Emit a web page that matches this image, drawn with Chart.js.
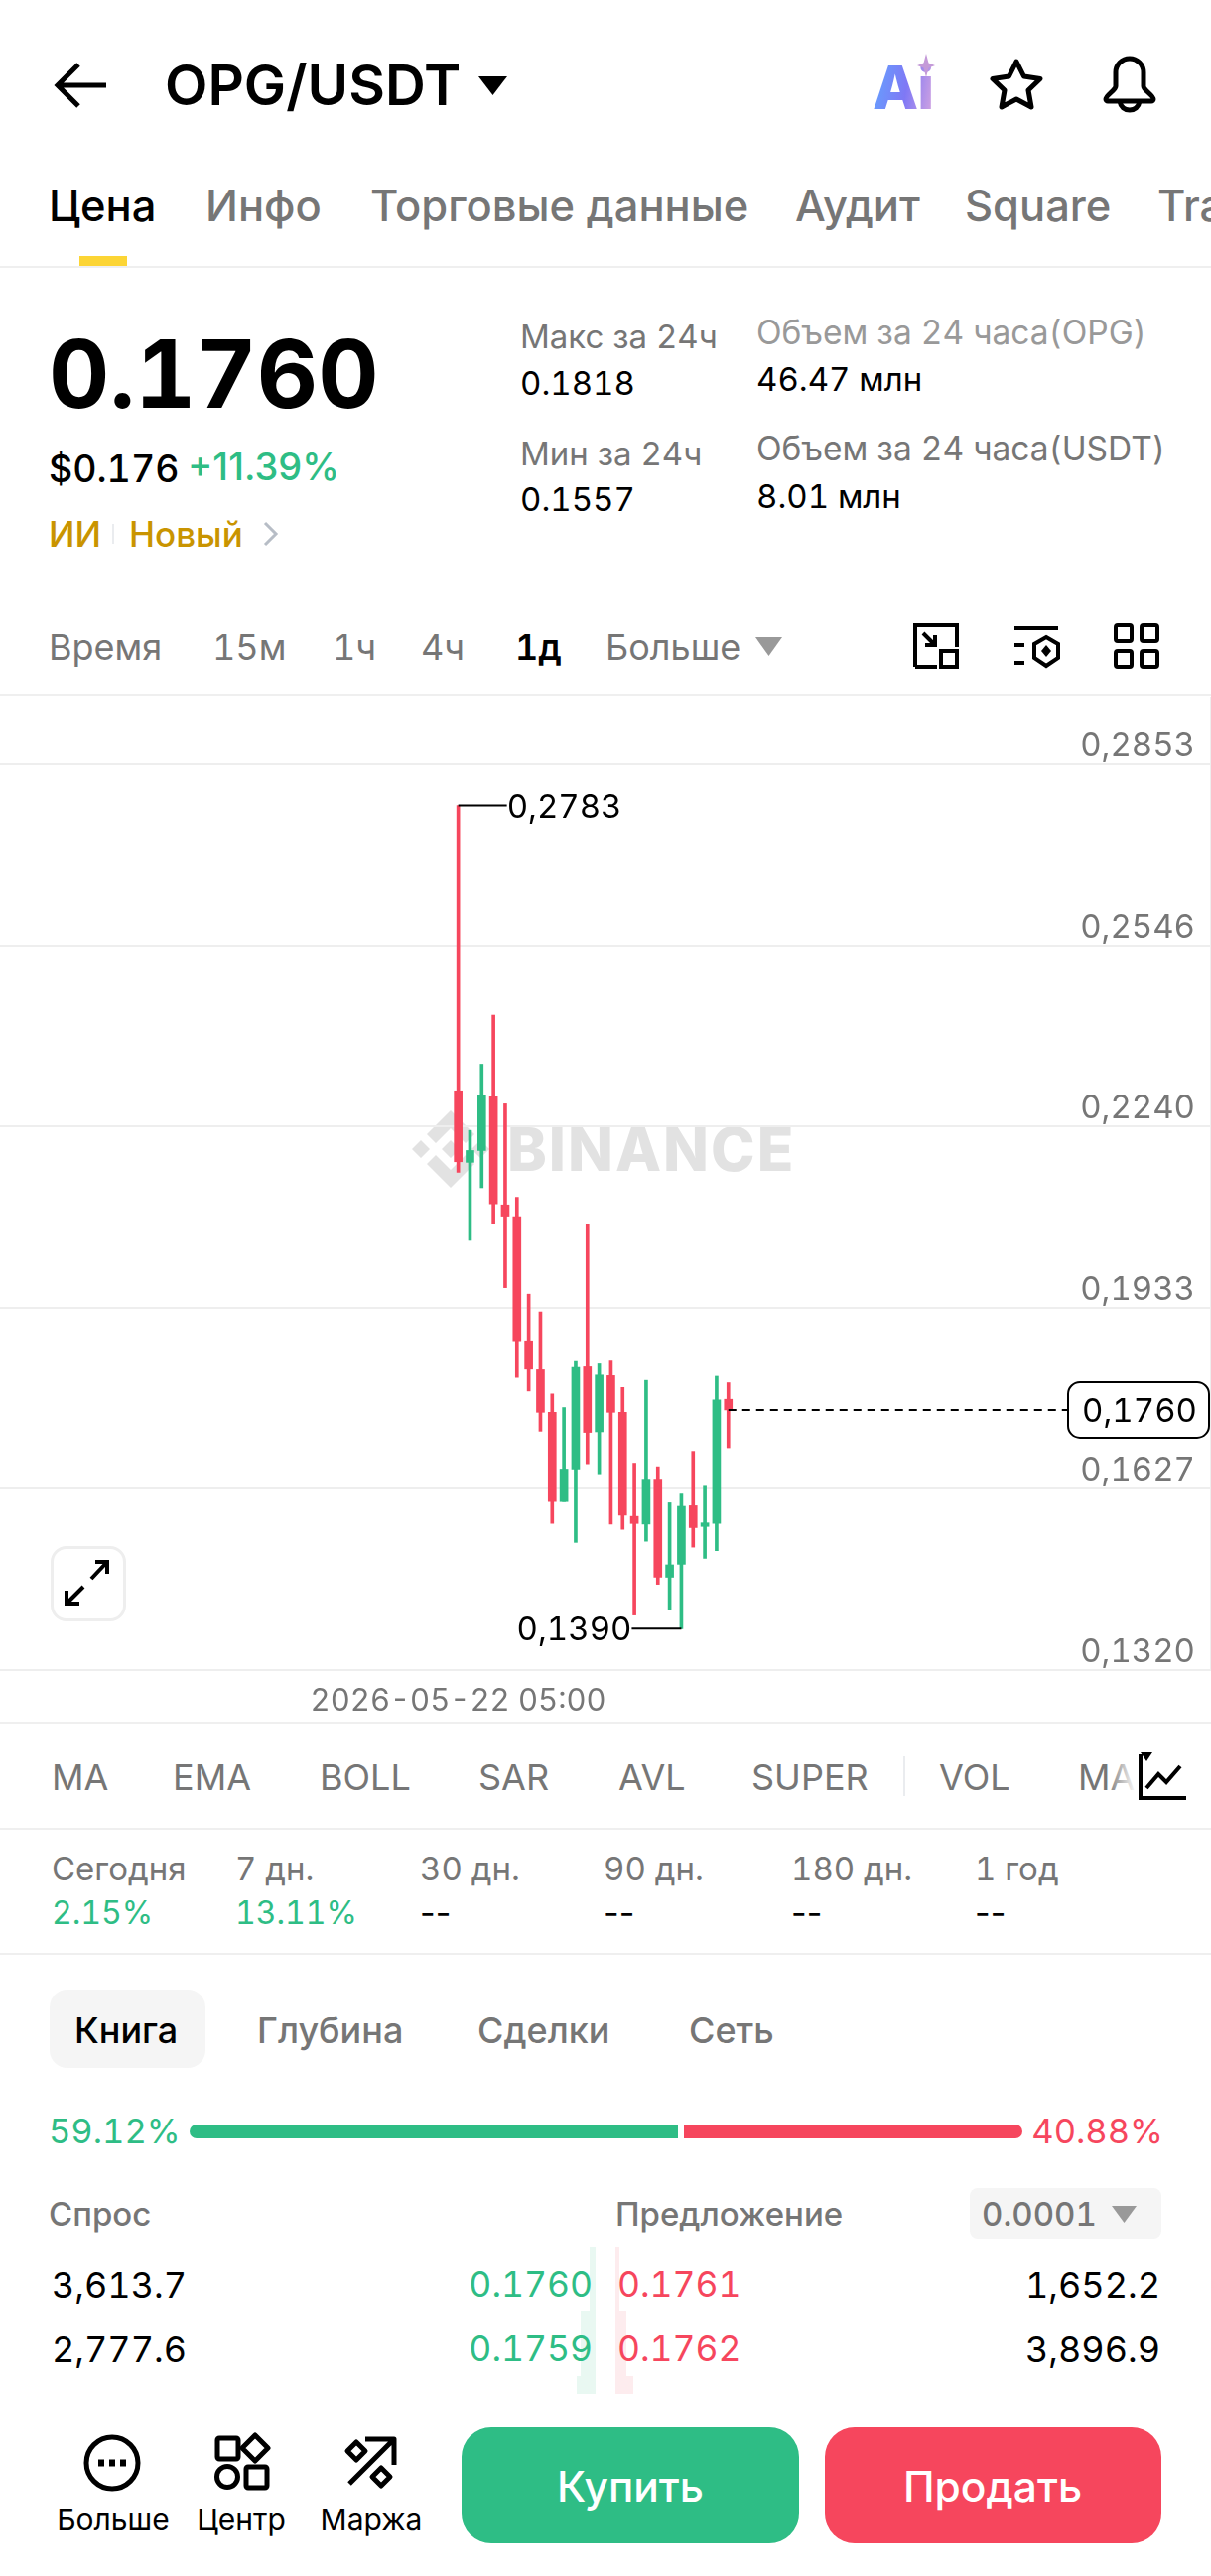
<!DOCTYPE html>
<html lang="ru">
<head>
<meta charset="UTF-8">
<title>OPG/USDT</title>
<script src="https://cdn.jsdelivr.net/npm/chart.js@4/dist/chart.umd.min.js"></script>
<style>
    html, body { margin: 0; padding: 0; background: #fff; }
    body { position: relative; width: 1220px; height: 2596px; overflow: hidden; font-family: Inter, Roboto, sans-serif; font-feature-settings: 'tnum'; color: #000; }
    .t { position: absolute; white-space: nowrap; transform: translateY(-50%); line-height: 1; margin-left: -1px; }
    .r { transform: translate(-100%, -50%); margin-left: 0; }
    .c { transform: translate(-50%, -50%); margin-left: 0; }
    .n { font-feature-settings: normal; }
    .grey { color: #767676; }
    .soft { color: #999999; }
    .green { color: #2EBD85; }
    .red { color: #F6465D; }
    .line { position: absolute; left: 0; width: 1220px; height: 2px; background: #EFEFEF; }
    .box { position: absolute; }
    svg { position: absolute; overflow: visible; }
    #myChart { position: absolute; left: 0; top: 702px; }
</style>
</head>
<body>

<!-- header -->
<svg style="left:55px;top:62px" width="52" height="48" viewBox="0 0 52 48" fill="none" stroke="#000" stroke-width="5"><path d="M52 24H3M24 3L3 24l21 21"/></svg>
<div class="t n" style="left:167px;top:86px;font-size:56.500px;font-weight:600">OPG/USDT</div>
<svg style="left:482px;top:77px" width="29" height="19"><path d="M0 0h29L14.500 19z" fill="#000"/></svg>
<div class="t" style="left:880px;top:88px;font-size:60px;font-weight:800;letter-spacing:-1px;background:linear-gradient(100deg,#62A5FF,#7F78F5 55%,#D5A5E0);-webkit-background-clip:text;background-clip:text;color:transparent">Ai</div>
<svg style="left:924px;top:54px" width="18" height="24"><path d="M9 0l2.500 9.500L18 12l-6.500 2.500L9 24l-2.500-9.500L0 12l6.500-2.500z" fill="#C49AD8"/></svg>
<svg style="left:997px;top:59px" width="54" height="52" viewBox="0 0 54 52" fill="none" stroke="#000" stroke-width="5" stroke-linejoin="round"><path d="M27 3L34.500 18 51 20.500 39 32 42 49 27 41 12 49 15 32 3 20.500 19.500 18z"/></svg>
<svg style="left:1110px;top:56px" width="56" height="60" viewBox="0 0 56 60" fill="none" stroke="#000" stroke-width="5" stroke-linejoin="round"><path d="M14 17a14 14 0 0 1 28 0v14c0 4 10 9 10 13 0 1-1 2-2 2H6c-1 0-2-1-2-2 0-4 10-9 10-13z"/><path d="M18 46c1 6 5 9 10 9s9-3 10-9"/></svg>

<!-- tabs -->
<div class="t" style="left:50px;top:208px;font-size:43.500px;font-weight:500">Цена</div>
<div class="t grey" style="left:208px;top:208px;font-size:43.500px;font-weight:500">Инфо</div>
<div class="t grey" style="left:374px;top:208px;font-size:43.500px;font-weight:500">Торговые данные</div>
<div class="t grey" style="left:802px;top:208px;font-size:43.500px;font-weight:500">Аудит</div>
<div class="t grey" style="left:973px;top:208px;font-size:43.500px;font-weight:500">Square</div>
<div class="t grey" style="left:1167px;top:208px;font-size:43.500px;font-weight:500">Trading</div>
<div class="box" style="left:80px;top:258px;width:48px;height:10px;background:#FCD535"></div>
<div class="line" style="top:268px"></div>

<!-- price block -->
<div class="t" style="left:50px;top:376px;font-size:95px;font-weight:700">0.1760</div>
<div class="t" style="left:50px;top:473px;font-size:37.500px;font-weight:500">$0.176</div>
<div class="t n green" style="left:190px;top:470px;font-size:38px;font-weight:500">+11.39%</div>
<div class="t" style="left:50px;top:538px;font-size:35px;font-weight:500;color:#C99400">ИИ</div>
<div class="box" style="left:113px;top:528px;width:2px;height:20px;background:#EAECEF"></div>
<div class="t" style="left:131px;top:538px;font-size:35px;font-weight:500;color:#C99400">Новый</div>
<svg style="left:265px;top:525px" width="16" height="26" fill="none" stroke="#B7BDC6" stroke-width="3"><path d="M2 2l11 11L2 24"/></svg>

<div class="t grey" style="left:525px;top:339px;font-size:33px">Макс за 24ч</div>
<div class="t" style="left:525px;top:386px;font-size:33px">0.1818</div>
<div class="t grey" style="left:525px;top:457px;font-size:33px">Мин за 24ч</div>
<div class="t" style="left:525px;top:503px;font-size:33px">0.1557</div>
<div class="t soft" style="left:763px;top:336px;font-size:33.500px">Объем за 24 часа(OPG)</div>
<div class="t" style="left:763px;top:382px;font-size:33px">46.47 млн</div>
<div class="t grey" style="left:763px;top:453px;font-size:33.500px">Объем за 24 часа(USDT)</div>
<div class="t" style="left:763px;top:500px;font-size:33px">8.01 млн</div>

<!-- interval row -->
<div class="t grey" style="left:50px;top:652px;font-size:36px">Время</div>
<div class="t grey" style="left:215px;top:652px;font-size:36px">15м</div>
<div class="t grey" style="left:336px;top:652px;font-size:36px">1ч</div>
<div class="t grey" style="left:425px;top:652px;font-size:36px">4ч</div>
<div class="t" style="left:520px;top:652px;font-size:36px;font-weight:600">1д</div>
<div class="t grey" style="left:611px;top:652px;font-size:36px">Больше</div>
<svg style="left:761px;top:642px" width="27" height="19"><path d="M0 0h27L13.500 19z" fill="#999999"/></svg>
<svg style="left:920px;top:628px" width="46" height="46" viewBox="0 0 46 46" fill="none" stroke="#000" stroke-width="4"><path d="M2 44V2h42v22M2 44h22M10 10l12 12M22 12v10H12"/><rect x="28" y="28" width="16" height="16"/></svg>
<svg style="left:1020px;top:630px" width="48" height="44" viewBox="0 0 48 44" fill="none" stroke="#000" stroke-width="4"><path d="M2 3h44M2 20h10M2 38h10M34 12l12 7v14l-12 8-12-8V19z"/><path d="M34 20l5 6-5 6-5-6z" fill="#000" stroke="none"/></svg>
<svg style="left:1122px;top:628px" width="46" height="46" fill="none" stroke="#000" stroke-width="4"><rect x="2" y="2" width="16" height="16" rx="2"/><rect x="28" y="2" width="16" height="16" rx="2"/><rect x="2" y="28" width="16" height="16" rx="2"/><rect x="28" y="28" width="16" height="16" rx="2"/></svg>
<div class="line" style="top:699px"></div>

<!-- watermark sits under the transparent canvas -->
<svg style="left:454px;top:1158px" width="1" height="1" viewBox="0 0 1 1" fill="#E2E2E2"><path d="M0-39L24-15 15-6 0-21-15-6-24-15zM0 39L24 15 15 6 0 21-15 6-24 15zM0-9L9 0 0 9-9 0zM-30-9L-21 0-30 9-39 0zM30-9L39 0 30 9 21 0z"/></svg>
<div class="t n" style="left:512px;top:1158px;font-size:60px;font-weight:800;letter-spacing:2px;color:#E2E2E2">BINANCE</div>

<canvas id="myChart" width="1220" height="1033"></canvas>

<div class="box" style="left:51px;top:1558px;width:70px;height:70px;border:3px solid #EEEEEE;border-radius:16px;background:#fff"></div>
<svg style="left:0;top:0" width="1" height="1" fill="none" stroke="#000" stroke-width="4"><path d="M92 1591L108 1574M96 1574H108V1586M84 1599L67 1616M67 1603V1616H80"/></svg>
<div class="line" style="top:1735px"></div>

<!-- indicators -->
<div class="t grey" style="left:53px;top:1791px;font-size:36px">MA</div>
<div class="t grey" style="left:175px;top:1791px;font-size:36px">EMA</div>
<div class="t grey" style="left:323px;top:1791px;font-size:36px">BOLL</div>
<div class="t grey" style="left:483px;top:1791px;font-size:36px">SAR</div>
<div class="t grey" style="left:624px;top:1791px;font-size:36px">AVL</div>
<div class="t grey" style="left:758px;top:1791px;font-size:36px">SUPER</div>
<div class="box" style="left:910px;top:1770px;width:2px;height:40px;background:#EAECEF"></div>
<div class="t grey" style="left:947px;top:1791px;font-size:36px">VOL</div>
<div class="t grey" style="left:1087px;top:1791px;font-size:36px">MACD</div>
<div class="box" style="left:1115px;top:1750px;width:105px;height:80px;background:linear-gradient(90deg,rgba(255,255,255,0),#fff 28%)"></div>
<svg style="left:1147px;top:1766px" width="48" height="48" fill="none" stroke="#000" stroke-width="4"><path d="M2 2v44h46M8 36l12-14 8 8 14-16"/><path d="M2 0h12L8 9z" fill="#000" stroke="none"/></svg>
<div class="line" style="top:1842px"></div>

<!-- performance -->
<div class="t grey" style="left:53px;top:1883px;font-size:33px">Сегодня</div>
<div class="t grey" style="left:238px;top:1883px;font-size:33px">7 дн.</div>
<div class="t grey" style="left:424px;top:1883px;font-size:33px">30 дн.</div>
<div class="t grey" style="left:609px;top:1883px;font-size:33px">90 дн.</div>
<div class="t grey" style="left:798px;top:1883px;font-size:33px">180 дн.</div>
<div class="t grey" style="left:983px;top:1883px;font-size:33px">1 год</div>
<div class="t green" style="left:53px;top:1928px;font-size:32px">2.15%</div>
<div class="t green" style="left:238px;top:1928px;font-size:32px">13.11%</div>
<div class="t n" style="left:424px;top:1928px;font-size:34px">--</div>
<div class="t n" style="left:609px;top:1928px;font-size:34px">--</div>
<div class="t n" style="left:798px;top:1928px;font-size:34px">--</div>
<div class="t n" style="left:983px;top:1928px;font-size:34px">--</div>
<div class="line" style="top:1968px"></div>

<!-- order book -->
<div class="box" style="left:50px;top:2005px;width:157px;height:79px;border-radius:18px;background:#F5F5F5"></div>
<div class="t" style="left:76px;top:2046px;font-size:36px;font-weight:500">Книга</div>
<div class="t grey" style="left:260px;top:2046px;font-size:36px;font-weight:500">Глубина</div>
<div class="t grey" style="left:482px;top:2046px;font-size:36px;font-weight:500">Сделки</div>
<div class="t grey" style="left:695px;top:2046px;font-size:36px;font-weight:500">Сеть</div>

<div class="t green" style="left:50px;top:2148px;font-size:34.500px">59.12%</div>
<div class="box" style="left:191px;top:2141px;width:492px;height:14px;background:#2EBD85;border-radius:7px 0 0 7px"></div>
<div class="box" style="left:689px;top:2141px;width:341px;height:14px;background:#F6465D;border-radius:0 7px 7px 0"></div>
<div class="t r red" style="left:1172px;top:2148px;font-size:34.500px">40.88%</div>

<div class="t grey" style="left:50px;top:2231px;font-size:33px;font-weight:500">Спрос</div>
<div class="t grey" style="left:621px;top:2231px;font-size:33px;font-weight:500">Предложение</div>
<div class="box" style="left:977px;top:2205px;width:193px;height:51px;border-radius:8px;background:#F5F5F5"></div>
<div class="t grey" style="left:990px;top:2231px;font-size:33px;font-weight:500">0.0001</div>
<svg style="left:1120px;top:2223px" width="25" height="17"><path d="M0 0h25L12.500 17z" fill="#999999"/></svg>

<div class="box" style="left:594px;top:2264px;width:6px;height:65px;background:#E9F8F2"></div>
<div class="box" style="left:585px;top:2329px;width:15px;height:65px;background:#E9F8F2"></div>
<div class="box" style="left:581px;top:2394px;width:19px;height:19px;background:#E9F8F2"></div>
<div class="box" style="left:620px;top:2264px;width:4px;height:65px;background:#FDECEE"></div>
<div class="box" style="left:620px;top:2329px;width:11px;height:65px;background:#FDECEE"></div>
<div class="box" style="left:620px;top:2394px;width:18px;height:19px;background:#FDECEE"></div>

<div class="t" style="left:53px;top:2303px;font-size:36px">3,613.7</div>
<div class="t r green" style="left:597px;top:2303px;font-size:35.500px">0.1760</div>
<div class="t red" style="left:623px;top:2303px;font-size:35.500px">0.1761</div>
<div class="t r" style="left:1169px;top:2303px;font-size:36px">1,652.2</div>
<div class="t" style="left:53px;top:2367px;font-size:36px">2,777.6</div>
<div class="t r green" style="left:597px;top:2367px;font-size:35.500px">0.1759</div>
<div class="t red" style="left:623px;top:2367px;font-size:35.500px">0.1762</div>
<div class="t r" style="left:1169px;top:2367px;font-size:36px">3,896.9</div>

<!-- bottom bar -->
<svg style="left:0;top:0" width="1" height="1" fill="none" stroke="#000" stroke-width="5" stroke-linejoin="round">
    <circle cx="113" cy="2482" r="26"/>
    <path d="M99 2482h6M110 2482h6M121 2482h6" stroke-width="7"/>
    <rect x="219" y="2457" width="21" height="21" rx="2"/>
    <path d="M257 2454l13 13-13 13-13-13z"/>
    <circle cx="229" cy="2496" r="10.500"/>
    <rect x="248" y="2486" width="21" height="21" rx="2"/>
    <path d="M352 2503L397 2458M368 2458H397V2484"/>
    <path d="M359 2461l9 9-9 9-9-9zM384 2487l9 9-9 9-9-9z"/>
</svg>
<div class="t c" style="left:114px;top:2539px;font-size:30px">Больше</div>
<div class="t c" style="left:243px;top:2539px;font-size:30px">Центр</div>
<div class="t c" style="left:374px;top:2539px;font-size:30px">Маржа</div>
<div class="box" style="left:465px;top:2446px;width:340px;height:117px;border-radius:30px;background:#2EBD85"></div>
<div class="t c" style="left:635px;top:2506px;font-size:42.500px;font-weight:500;color:#fff">Купить</div>
<div class="box" style="left:831px;top:2446px;width:339px;height:117px;border-radius:30px;background:#F6465D"></div>
<div class="t c" style="left:1000px;top:2506px;font-size:42.500px;font-weight:500;color:#fff">Продать</div>

<script>
    // daily candles, oldest first
    const opens  = [0.2300, 0.2179, 0.2199, 0.2290, 0.2107, 0.2087, 0.1877, 0.1828, 0.1756, 0.1605, 0.1660, 0.1833, 0.1723, 0.1818, 0.1756, 0.1580, 0.1567, 0.1643, 0.1477, 0.1499, 0.1598, 0.1563, 0.1568, 0.1778];
    const highs  = [0.2783, 0.2233, 0.2345, 0.2428, 0.2278, 0.2120, 0.1956, 0.1926, 0.1787, 0.1764, 0.1842, 0.2075, 0.1838, 0.1843, 0.1798, 0.1670, 0.1810, 0.1664, 0.1603, 0.1618, 0.1690, 0.1631, 0.1817, 0.1806];
    const lows   = [0.2162, 0.2047, 0.2136, 0.2075, 0.1967, 0.1815, 0.1792, 0.1724, 0.1568, 0.1605, 0.1536, 0.1669, 0.1652, 0.1567, 0.1558, 0.1413, 0.1538, 0.1465, 0.1423, 0.1390, 0.1528, 0.1509, 0.1522, 0.1696];
    const closes = [0.2180, 0.2199, 0.2292, 0.2109, 0.2088, 0.1877, 0.1829, 0.1756, 0.1605, 0.1660, 0.1832, 0.1722, 0.1819, 0.1756, 0.1582, 0.1568, 0.1643, 0.1477, 0.1498, 0.1597, 0.1561, 0.1569, 0.1777, 0.1760];

    const yTicks = [0.1320, 0.1627, 0.1933, 0.2240, 0.2546, 0.2853];
    const xTickLabel = '2026-05-22 05:00';

    const highIndex = 0;
    const lowIndex = 19;
    const lastPrice = 0.1760;

    const yMin = 0.1320;
    const yMax = 0.2967;
    const xMin = -39.02;
    const xMax = 64.1;

    const UP = '#2EBD85';
    const DOWN = '#F6465D';
    const GRID = '#EEEEEE';
    const FONT = 'Inter';

    const comma = v => v.toFixed(4).replace('.', ',');
    const candleColors = closes.map((c, i) => c >= opens[i] ? UP : DOWN);

    // min/max labels and the dashed last price line with its box
    const markers = {
        id: 'markers',
        afterDatasetsDraw(chart) {
            const { ctx, scales: { x, y } } = chart;
            ctx.save();
            ctx.font = '33px ' + FONT;
            ctx.fillStyle = '#000';
            ctx.strokeStyle = '#000';
            ctx.lineWidth = 2;
            ctx.textBaseline = 'middle';

            const hx = x.getPixelForValue(highIndex), hy = y.getPixelForValue(highs[highIndex]);
            ctx.beginPath();
            ctx.moveTo(hx, hy);
            ctx.lineTo(hx + 49, hy);
            ctx.stroke();
            ctx.textAlign = 'left';
            ctx.fillText(comma(highs[highIndex]), hx + 49, hy + 2);

            const lx = x.getPixelForValue(lowIndex), ly = y.getPixelForValue(lows[lowIndex]);
            ctx.beginPath();
            ctx.moveTo(lx, ly);
            ctx.lineTo(lx - 50, ly);
            ctx.stroke();
            ctx.textAlign = 'right';
            ctx.fillText(comma(lows[lowIndex]), lx - 50, ly + 2);

            const px = x.getPixelForValue(closes.length - 1), py = y.getPixelForValue(lastPrice);
            ctx.setLineDash([8, 6]);
            ctx.beginPath();
            ctx.moveTo(px, py);
            ctx.lineTo(1075, py);
            ctx.stroke();
            ctx.setLineDash([]);
            ctx.fillStyle = '#fff';
            ctx.beginPath();
            ctx.roundRect(1076, py - 28, 142, 56, 12);
            ctx.fill();
            ctx.stroke();
            ctx.fillStyle = '#000';
            ctx.textAlign = 'center';
            ctx.fillText(comma(lastPrice), 1148, py + 2);
            ctx.restore();
        }
    };

    const ctx = document.getElementById('myChart').getContext('2d');
    const myChart = new Chart(ctx, {
        type: 'bar',
        data: {
            datasets: [{
                label: 'Тело',
                data: opens.map((o, i) => ({ x: i, y: [o, closes[i]] })),
                backgroundColor: candleColors,
                barThickness: 8
            }, {
                label: 'Тень',
                data: lows.map((l, i) => ({ x: i, y: [l, highs[i]] })),
                backgroundColor: candleColors,
                barThickness: 3
            }]
        },
        options: {
            responsive: false,
            animation: false,
            devicePixelRatio: 1,
            layout: { padding: 0 },
            plugins: { legend: { display: false }, tooltip: { enabled: false } },
            datasets: { bar: { grouped: false } },
            scales: {
                x: {
                    type: 'linear',
                    position: 'bottom',
                    min: xMin,
                    max: xMax,
                    offset: false,
                    border: { display: false },
                    grid: { color: GRID, lineWidth: 2, drawTicks: false },
                    afterBuildTicks: scale => { scale.ticks = [{ value: 0 }]; },
                    afterFit: scale => { scale.height = 52; scale.paddingLeft = 0; scale.paddingRight = 0; },
                    ticks: {
                        callback: () => xTickLabel,
                        maxRotation: 0,
                        autoSkip: false,
                        padding: 13,
                        color: '#767676',
                        font: { family: FONT, size: 31 }
                    }
                },
                y: {
                    position: 'right',
                    min: yMin,
                    max: yMax,
                    border: { display: false },
                    grid: { color: GRID, lineWidth: 2, drawTicks: false },
                    afterBuildTicks: scale => { scale.ticks = yTicks.map(v => ({ value: v })); },
                    afterFit: scale => { scale.width = 0; scale.paddingTop = 0; scale.paddingBottom = 0; },
                    ticks: {
                        callback: v => comma(v),
                        mirror: true,
                        padding: -16,
                        labelOffset: -18,
                        color: '#767676',
                        font: { family: FONT, size: 33 }
                    }
                }
            }
        },
        plugins: [markers]
    });
</script>
</body>
</html>
